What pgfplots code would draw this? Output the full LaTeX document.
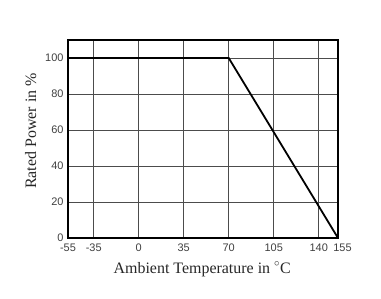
\documentclass[border=0pt]{standalone}
\usepackage{fontspec}
\setmainfont{Liberation Serif}
\newfontfamily\arial{Liberation Sans}
\usepackage{pgfplots}
\pgfplotsset{compat=1.18}
\begin{document}
\begin{tikzpicture}
\path[use as bounding box] (-68bp,-61bp) rectangle (313bp,238bp);
\begin{axis}[at={(0,0)}, anchor=south west, scale only axis,
  width=270bp, height=198bp,
  xmin=-55, xmax=155, ymin=0, ymax=110,
  xtick={-55,-35,0,35,70,105,140,155},
  xticklabels={-55,-35,0,35,70,105,140,\hspace*{9bp}155},
  ytick={0,20,40,60,80,100},
  yticklabels={0,20,40,60,80,100},
  major tick length=0pt,
  grid=major,
  grid style={draw=black!70, line width=0.7pt},
  axis line style={line width=1.3pt, black},
  tick label style={font=\arial\fontsize{11}{12}\selectfont, text=black!75},
  xticklabel style={anchor=north, yshift=-2bp},
  yticklabel style={anchor=east, xshift=-1bp},
  xlabel={Ambient Temperature in $^\circ$C},
  ylabel={Rated Power in \%},
  label style={font=\fontsize{16}{17}\selectfont, text=black!85},
  xlabel style={at={(axis description cs:0.497,-0.177)}, anchor=base},
  ylabel style={at={(axis description cs:-0.118,0.54)}, anchor=base, rotate=0},
]
\addplot[black, line width=1.8pt] coordinates {(-55,100) (70,100) (155,0)};
\end{axis}
\end{tikzpicture}
\end{document}
